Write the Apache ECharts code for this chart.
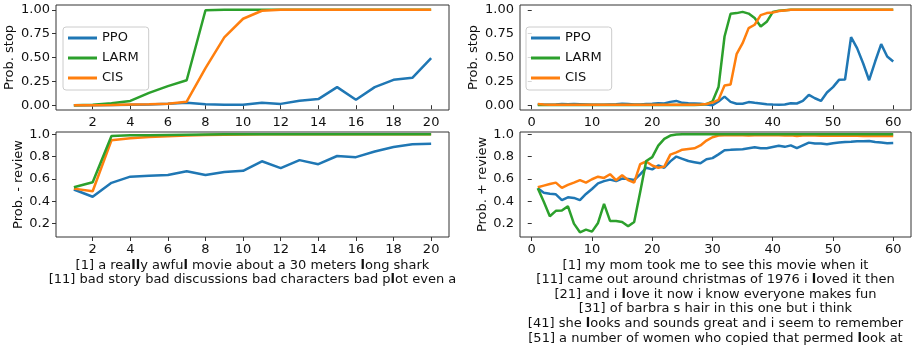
<!DOCTYPE html>
<html><head><meta charset="utf-8">
<script src="https://cdn.jsdelivr.net/npm/echarts@6/dist/echarts.min.js"></script>
<style>html,body{margin:0;padding:0;background:#fff}#c{width:913px;height:347px}</style>
</head><body><div id="c"></div>
<script>
// ---- data ----
const xShort = [1,2,3,4,5,6,7,8,9,10,11,12,13,14,15,16,17,18,19,20];
const xLong = [];
for (let i = 1; i <= 60; i++) xLong.push(i);

const stopShortPPO  = [0,0,0.003,0.005,0.008,0.015,0.025,0.01,0.004,0.004,0.027,0.014,0.047,0.064,0.19,0.057,0.19,0.266,0.287,0.493];
const stopShortLARM = [0,0.005,0.02,0.045,0.13,0.2,0.262,0.995,1,1,1,1,1,1,1,1,1,1,1,1];
const stopShortCIS  = [0,0,0.003,0.008,0.01,0.015,0.037,0.388,0.71,0.906,0.99,1,1,1,1,1,1,1,1,1];

const revShortPPO  = [0.505,0.44,0.565,0.62,0.628,0.635,0.668,0.635,0.662,0.673,0.758,0.697,0.768,0.732,0.805,0.795,0.845,0.885,0.91,0.915];
const revShortLARM = [0.525,0.57,0.985,0.99,0.992,0.994,0.996,0.998,1,1,1,1,1,1,1,1,1,1,1,1];
const revShortCIS  = [0.513,0.49,0.946,0.965,0.975,0.982,0.988,0.993,0.996,0.998,1,1,1,1,1,1,1,1,1,1];

const stopLongPPO = [0.01,0.005,0.005,0.008,0.012,0.01,0.012,0.01,0.008,0.005,
  0.005,0.005,0.008,0.01,0.015,0.012,0.008,0.008,0.012,0.015,
  0.022,0.018,0.035,0.045,0.025,0.02,0.018,0.015,0.008,0.0,
  0.04,0.09,0.035,0.015,0.015,0.033,0.025,0.018,0.01,0.007,
  0.005,0.007,0.02,0.018,0.045,0.108,0.073,0.045,0.133,0.19,
  0.266,0.27,0.713,0.598,0.44,0.262,0.458,0.64,0.51,0.458];
const stopLongLARM = [0.002,0.002,0.002,0.002,0.002,0.002,0.002,0.002,0.002,0.002,
  0.002,0.002,0.002,0.002,0.002,0.002,0.002,0.002,0.002,0.002,
  0.002,0.002,0.002,0.002,0.002,0.002,0.003,0.005,0.012,0.04,
  0.19,0.72,0.958,0.965,0.978,0.96,0.913,0.825,0.874,0.976,
  0.99,0.996,1,1,1,1,1,1,1,1,
  1,1,1,1,1,1,1,1,1,1];
const stopLongCIS = [0.012,0.008,0.006,0.005,0.005,0.005,0.005,0.005,0.005,0.005,
  0.005,0.005,0.005,0.005,0.005,0.005,0.005,0.005,0.005,0.005,
  0.005,0.005,0.005,0.005,0.005,0.005,0.006,0.008,0.012,0.028,
  0.056,0.206,0.217,0.535,0.65,0.808,0.843,0.944,0.965,0.972,
  0.986,0.993,1,1,1,1,1,1,1,1,
  1,1,1,1,1,1,1,1,1,1];

const revLongPPO = [0.516,0.477,0.468,0.462,0.41,0.435,0.43,0.41,0.465,0.51,
  0.56,0.58,0.594,0.58,0.603,0.6,0.59,0.64,0.70,0.685,
  0.72,0.70,0.757,0.80,0.78,0.76,0.75,0.74,0.776,0.786,
  0.82,0.856,0.86,0.863,0.866,0.875,0.884,0.875,0.875,0.886,
  0.896,0.887,0.9,0.875,0.9,0.925,0.917,0.917,0.91,0.92,
  0.925,0.93,0.933,0.937,0.937,0.94,0.93,0.925,0.92,0.922];
const revLongLARM = [0.516,0.395,0.266,0.314,0.317,0.356,0.2,0.122,0.146,0.128,
  0.206,0.377,0.224,0.224,0.215,0.176,0.215,0.483,0.76,0.795,
  0.898,0.958,0.988,0.997,1,1,1,1,1,1,
  1,1,1,1,1,1,1,1,1,1,
  1,1,1,1,1,1,1,1,1,1,
  1,1,1,1,1,1,1,1,1,1];
const revLongCIS = [0.525,0.54,0.555,0.567,0.52,0.546,0.567,0.59,0.567,0.597,
  0.62,0.609,0.642,0.588,0.633,0.59,0.567,0.732,0.756,0.72,
  0.70,0.71,0.817,0.838,0.862,0.868,0.874,0.9,0.943,0.973,
  0.988,0.99,0.99,0.99,0.99,0.988,0.99,0.99,0.99,0.99,
  0.99,0.988,0.99,0.985,0.988,0.988,0.988,0.987,0.988,0.987,
  0.986,0.987,0.986,0.986,0.985,0.985,0.985,0.985,0.984,0.984];

const xTicksShort = [2,4,6,8,10,12,14,16,18,20];
const xTicksLong = [0,10,20,30,40,50,60];
const yTicksStop = [0,0.25,0.5,0.75,1.0];
const yTicksRev = [0.2,0.4,0.6,0.8,1.0];

const textLeft = [
  "[1] a really awful movie about a 30 meters long shark",
  "[11] bad story bad discussions bad characters bad plot even a"
];
const textRight = [
  "[1] my mom took me to see this movie when it",
  "[11] came out around christmas of 1976 i loved it then",
  "[21] and i love it now i know everyone makes fun",
  "[31] of barbra s hair in this one but i think",
  "[41] she looks and sounds great and i seem to remember",
  "[51] a number of women who copied that permed look at"
];

const names = ['PPO','LARM','CIS'];
const colors = {PPO:'#1f77b4', LARM:'#2ca02c', CIS:'#ff7f0e'};

// ---- chart ----
const FONT = 'DejaVu Sans';
const FS = 13;
const pairs = (xs, ys) => xs.map((x, i) => [x, ys[i]]);
const boldL = s => s.replace(/l/g, '{b|l}');

function xAxisDef(gridIndex, min, max, ticks, nameLines) {
  const ax = {
    type: 'value', gridIndex, min, max,
    axisLine: {show: false},
    splitLine: {show: false},
    axisTick: {show: true, length: 4, lineStyle: {color: '#333'}, customValues: ticks},
    axisLabel: {fontFamily: FONT, fontSize: FS, color: '#111', margin: 6, customValues: ticks,
      formatter: v => String(Math.round(v))}
  };
  if (nameLines) {
    ax.name = nameLines.map(boldL).join('\n');
    ax.nameLocation = 'middle';
    ax.nameGap = 21;
    ax.nameTextStyle = {fontFamily: FONT, fontSize: FS, color: '#111', lineHeight: 14.6,
      rich: {b: {fontFamily: FONT, fontSize: FS, color: '#111', fontWeight: 'bold', lineHeight: 14.6}}};
  }
  return ax;
}
function yAxisDef(gridIndex, min, max, ticks, digits, name, gap) {
  return {
    type: 'value', gridIndex, min, max,
    axisLine: {show: false},
    splitLine: {show: false},
    axisTick: {show: true, length: 4, lineStyle: {color: '#333'}, customValues: ticks},
    axisLabel: {fontFamily: FONT, fontSize: FS, color: '#111', margin: 6, customValues: ticks,
      formatter: v => v.toFixed(digits)},
    name, nameLocation: 'middle', nameGap: gap,
    nameTextStyle: {fontFamily: FONT, fontSize: FS, color: '#111'}
  };
}
function line(name, idx, xs, ys) {
  return {
    type: 'line', name, xAxisIndex: idx, yAxisIndex: idx,
    data: pairs(xs, ys), showSymbol: false, symbol: 'none',
    lineStyle: {width: 2.5, color: colors[name]}, itemStyle: {color: colors[name]},
    animation: false
  };
}
function legendDef(left) {
  return {
    data: names, orient: 'vertical', left, top: 27,
    itemWidth: 29, itemHeight: 3, icon: 'rect', itemGap: 6,
    padding: [4, 10, 5, 5],
    backgroundColor: 'rgba(255,255,255,0.8)', borderColor: '#ccc', borderWidth: 1, borderRadius: 3,
    textStyle: {fontFamily: FONT, fontSize: FS, color: '#111', lineHeight: 14},
    selectedMode: false
  };
}

const gridStyle = {show: true, borderColor: '#333', borderWidth: 1, backgroundColor: 'transparent', containLabel: false};

const option = {
  animation: false,
  textStyle: {fontFamily: FONT},
  grid: [
    Object.assign({left: 56, top: 5, width: 393, height: 105}, gridStyle),
    Object.assign({left: 56, top: 132, width: 393, height: 105}, gridStyle),
    Object.assign({left: 520, top: 5, width: 391, height: 105}, gridStyle),
    Object.assign({left: 520, top: 132, width: 391, height: 105}, gridStyle)
  ],
  xAxis: [
    xAxisDef(0, 0.05, 20.95, xTicksShort, null),
    xAxisDef(1, 0.05, 20.95, xTicksShort, textLeft),
    xAxisDef(2, -1.95, 62.95, xTicksLong, null),
    xAxisDef(3, -1.95, 62.95, xTicksLong, textRight)
  ],
  yAxis: [
    yAxisDef(0, -0.05, 1.05, yTicksStop, 2, 'Prob. stop', 40),
    yAxisDef(1, 0.08, 1.02, yTicksRev, 1, 'Prob. - review', 31),
    yAxisDef(2, -0.05, 1.05, yTicksStop, 2, 'Prob. stop', 40),
    yAxisDef(3, 0.08, 1.02, yTicksRev, 1, 'Prob. + review', 31)
  ],
  legend: [legendDef(63), legendDef(526)],
  series: [
    line('PPO', 0, xShort, stopShortPPO),
    line('LARM', 0, xShort, stopShortLARM),
    line('CIS', 0, xShort, stopShortCIS),
    line('PPO', 1, xShort, revShortPPO),
    line('CIS', 1, xShort, revShortCIS),
    line('LARM', 1, xShort, revShortLARM),
    line('PPO', 2, xLong, stopLongPPO),
    line('LARM', 2, xLong, stopLongLARM),
    line('CIS', 2, xLong, stopLongCIS),
    line('PPO', 3, xLong, revLongPPO),
    line('CIS', 3, xLong, revLongCIS),
    line('LARM', 3, xLong, revLongLARM)
  ]
};
const chart = echarts.init(document.getElementById('c'), null, {renderer: 'canvas'});
chart.setOption(option);
</script>
</body></html>
